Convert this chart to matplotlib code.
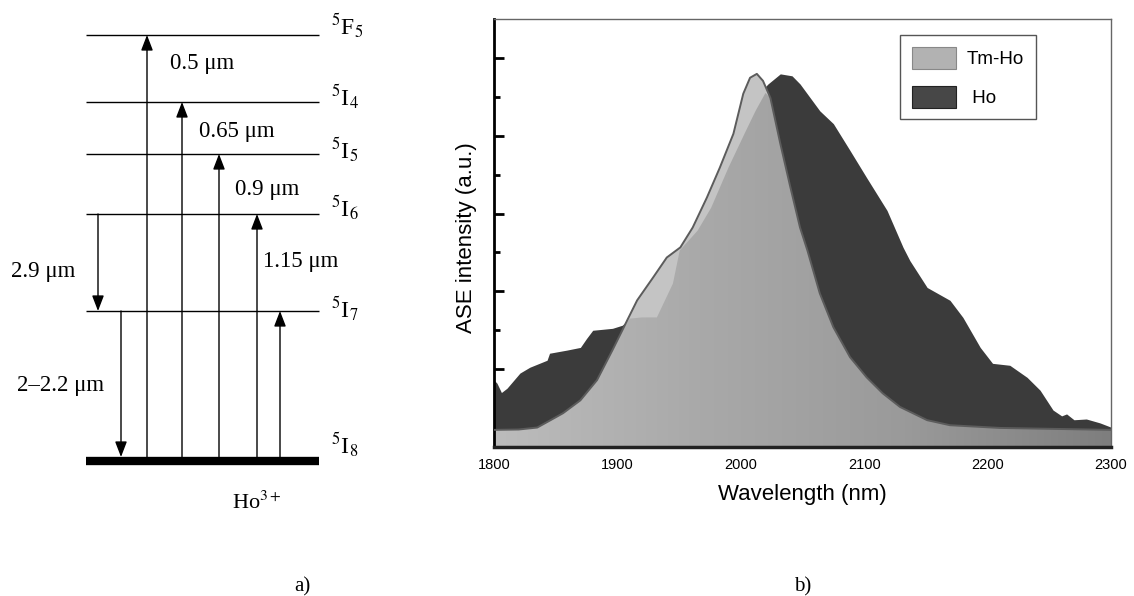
import numpy as np
import matplotlib
matplotlib.use("Agg")
import matplotlib.pyplot as plt
from matplotlib.colors import LinearSegmentedColormap
from matplotlib.patches import Polygon, Patch

plt.rcParams["mathtext.fontset"] = "stix"

# ---- a) Ho3+ energy levels (schematic heights above ground, px-like units)
level_names = [r"$^{5}$I$_{8}$", r"$^{5}$I$_{7}$", r"$^{5}$I$_{6}$",
               r"$^{5}$I$_{5}$", r"$^{5}$I$_{4}$", r"$^{5}$F$_{5}$"]
level_h = [0, 150, 247, 307, 359, 426]
level_label_h = [16, 152, 253, 311, 364, 435]

# up arrows: x position, target level index
up_x = [147, 182, 219, 257, 280]
up_to = [5, 4, 3, 2, 1]
# down arrows: x, from level, to level
down_x = [98, 121]
down_from = [2, 1]
down_to = [1, 0]

wl_labels = ["0.5 μm", "0.65 μm", "0.9 μm", "1.15 μm", "2.9 μm", "2–2.2 μm"]
wl_x = [170, 199, 235, 263, 11, 17]
wl_h = [397, 330, 272, 200, 189, 76]

# ---- b) ASE spectra (read from picture)
ho_nm = [1800, 1802.4, 1806, 1810.5, 1821, 1829, 1843, 1845, 1859, 1870, 1875,
         1880, 1896, 1904, 1916, 1930, 1945, 1960, 1975, 1990, 2005, 2015,
         2022, 2032, 2041.5, 2048, 2064, 2075, 2088.5, 2102, 2118.5, 2131.5,
         2137, 2151, 2169.5, 2180, 2194, 2204, 2218, 2232, 2242.5, 2253,
         2260, 2264, 2270, 2280, 2291, 2300]
ho = [0.172, 0.164, 0.14, 0.151, 0.19, 0.205, 0.223, 0.241, 0.249, 0.256,
      0.279, 0.30, 0.305, 0.313, 0.35, 0.40, 0.46, 0.53, 0.62, 0.72, 0.84,
      0.91, 0.933, 0.959, 0.954, 0.933, 0.864, 0.831, 0.762, 0.692, 0.608,
      0.513, 0.479, 0.410, 0.377, 0.333, 0.256, 0.215, 0.210, 0.179, 0.146,
      0.095, 0.08, 0.085, 0.07, 0.072, 0.062, 0.051]

tmho_nm = [1800, 1820, 1835, 1843, 1856, 1870, 1883.5, 1896, 1904, 1908, 1916,
           1929, 1940, 1951, 1961, 1972.5, 1983, 1994, 2002, 2007.5, 2013, 2018,
           2024, 2032, 2040, 2048, 2054, 2064, 2075, 2088.5, 2102, 2115, 2129,
           2151, 2169.5, 2210, 2300]
tmho = [0.044, 0.045, 0.05, 0.064, 0.087, 0.12, 0.172, 0.249, 0.30, 0.326,
        0.377, 0.436, 0.487, 0.513, 0.564, 0.641, 0.718, 0.805, 0.908, 0.949,
        0.959, 0.941, 0.897, 0.78, 0.67, 0.564, 0.505, 0.395, 0.308, 0.231,
        0.179, 0.138, 0.103, 0.069, 0.056, 0.049, 0.044]

# inner (darker) part of the Tm-Ho band
inner_nm = [1904, 1910, 1920, 1932, 1945, 1950.5, 1965, 1976, 1990, 2003, 2012, 2020]
inner = [0.30, 0.33, 0.333, 0.333, 0.42, 0.505, 0.556, 0.615, 0.718, 0.805, 0.864, 0.91]

fig = plt.figure(figsize=(11.34, 5.96), dpi=100)

# ---------------- panel a
axa = fig.add_axes([0, 0, 476 / 1134, 1])
axa.set_xlim(0, 476)
axa.set_ylim(-135, 461)
axa.axis("off")

axa.hlines(level_h[1:], 86, 319, color="k", lw=1)
axa.hlines(level_h[0], 86, 319, color="k", lw=6)

serif = "Liberation Serif"
for name, h in zip(level_names, level_label_h):
    axa.text(331, h, name, fontsize=17, family=serif, va="center", ha="left")

astyle = "-|>,head_length=0.52,head_width=0.2"
for x, i in zip(up_x, up_to):
    axa.annotate("", xy=(x, level_h[i]), xytext=(x, 4),
                 arrowprops=dict(arrowstyle=astyle, color="k", lw=1,
                                 mutation_scale=18, shrinkA=0, shrinkB=0))
for x, i, j in zip(down_x, down_from, down_to):
    axa.annotate("", xy=(x, level_h[j] + (4 if j == 0 else 0)), xytext=(x, level_h[i]),
                 arrowprops=dict(arrowstyle=astyle, color="k", lw=1,
                                 mutation_scale=18, shrinkA=0, shrinkB=0))

for t, x, h in zip(wl_labels, wl_x, wl_h):
    axa.text(x, h, t, fontsize=16.5, family=serif, va="center", ha="left")

axa.text(232, -42, r"Ho$^{3+}$", fontsize=16, family=serif, va="center", ha="left")

fig.text(302 / 1134, 9 / 596, "a)", fontsize=15, family=serif, ha="center", va="center")
fig.text(803 / 1134, 9 / 596, "b)", fontsize=15, family=serif, ha="center", va="center")

# ---------------- panel b
ax = fig.add_axes([494 / 1134, 149 / 596, 617 / 1134, 428 / 596])

ax.fill_between(ho_nm, 0, ho, color="#3b3b3b", lw=0, zorder=1)

grad = np.linspace(0, 1, 256).reshape(1, -1)
cmap = LinearSegmentedColormap.from_list("g", ["#bcbcbc", "#a9a9a9", "#9a9a9a", "#7e7e7e"])
im = ax.imshow(grad, extent=(1800, 2300, 0, 1.1), aspect="auto", cmap=cmap, zorder=2)
verts = np.column_stack([np.r_[tmho_nm, tmho_nm[-1], tmho_nm[0]],
                         np.r_[tmho, 0, 0]])
clip = Polygon(verts, closed=True, transform=ax.transData, facecolor="none",
               edgecolor="none")
ax.add_patch(clip)
im.set_clip_path(clip)

tx = np.array(tmho_nm)
ty = np.array(tmho)
m = (tx >= inner_nm[0]) & (tx <= 2024)
band = np.column_stack([np.r_[tx[m], inner_nm[::-1]], np.r_[ty[m], inner[::-1]]])
ax.add_patch(Polygon(band, closed=True, facecolor="#c4c4c4", edgecolor="none", zorder=3))

ax.plot(tmho_nm, tmho, color="#5c5c5c", lw=1.4, zorder=4)

ax.set_xlim(1800, 2300)
ax.set_ylim(0, 1.1)
ax.set_xticks([1800, 1900, 2000, 2100, 2200, 2300])
ax.set_yticks([0.2, 0.4, 0.6, 0.8, 1.0])
ax.set_yticks([0.3, 0.5, 0.7, 0.9], minor=True)
ax.set_yticklabels([])
ax.tick_params(axis="x", length=0, pad=8, labelsize=10.5)
ax.tick_params(axis="y", which="major", direction="in", length=7, width=2)
ax.tick_params(axis="y", which="minor", direction="in", length=4, width=2)
for lab in ax.get_xticklabels():
    lab.set_family("Liberation Sans")

ax.spines["left"].set_linewidth(2)
ax.spines["bottom"].set_linewidth(2.5)
ax.spines["bottom"].set_color("#222222")
for s in ["top", "right"]:
    ax.spines[s].set_linewidth(1)
    ax.spines[s].set_color("#666666")

ax.set_xlabel("Wavelength (nm)", fontsize=16, family="Liberation Sans")
ax.set_ylabel("ASE intensity (a.u.)", fontsize=16, family="Liberation Sans")
ax.xaxis.set_label_coords(0.5, -0.0865)
ax.yaxis.set_label_coords(-0.028, 0.49)

handles = [Patch(facecolor="#b2b2b2", edgecolor="#888888", lw=0.8),
           Patch(facecolor="#474747", edgecolor="#222222", lw=0.8)]
leg = ax.legend(handles, ["Tm-Ho", " Ho"], loc="upper left",
                bbox_to_anchor=((900 - 494) / 617, (447 - 35) / 428),
                borderaxespad=0, fancybox=False, framealpha=1,
                prop={"family": "Liberation Sans", "size": 13.5},
                handlelength=2.35, handleheight=1.44, handletextpad=0.6,
                labelspacing=0.9, borderpad=0.62)
leg.get_frame().set_edgecolor("#555555")
leg.get_frame().set_linewidth(1)

fig.savefig("out.png", dpi=100)
